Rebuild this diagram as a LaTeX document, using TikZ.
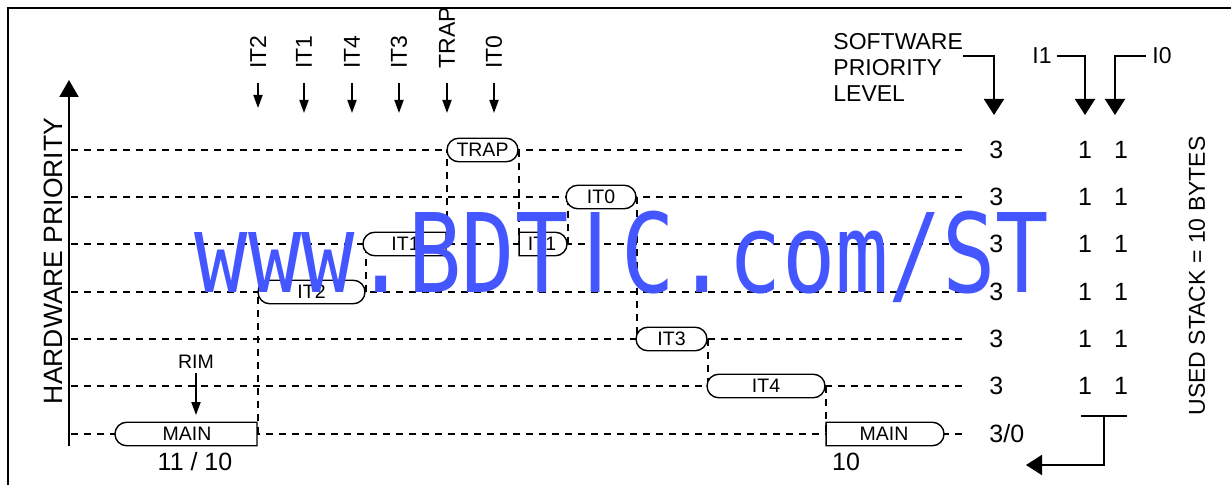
\documentclass[tikz,border=0pt]{standalone}
\usepackage{fontspec}
\setmainfont{Liberation Sans}
\newfontfamily\wmmono{DejaVu Sans Mono}
\newfontfamily\wmsans{DejaVu Sans}
\usetikzlibrary{shapes.misc,arrows.meta,backgrounds}
\definecolor{wmblue}{RGB}{68,86,255}
\newcommand\wmc[1]{\makebox[26.7pt][c]{#1}}
\begin{document}
\begin{tikzpicture}[x=0.5pt,y=-0.5pt,
  lbl/.style={font=\fontsize{11.5}{13}\selectfont, inner sep=0pt},
  num/.style={font=\fontsize{12.5}{14}\selectfont, inner sep=0pt},
  blbl/.style={font=\fontsize{9.75}{11}\selectfont, inner sep=0pt},
  task/.style={rounded rectangle, draw, fill=white, line width=0.7pt,
    minimum height=11.75pt, inner sep=0pt, font=\fontsize{9.75}{11}\selectfont},
  noleft/.style={rounded rectangle left arc=none},
  noright/.style={rounded rectangle right arc=none},
  grid/.style={line width=0.9pt, dash pattern=on 3.5pt off 3pt},
  sarr/.style={line width=0.9pt, -{Triangle[width=4.5pt,length=6.5pt]}},
  barr/.style={line width=1pt, -{Triangle[width=10pt,length=8pt]}},
  frame/.style={line width=1.2pt}
]
\useasboundingbox (0,0) rectangle (1231,485);

% frame
\draw[frame] (8,490) -- (8,8) -- (1236,8);

% axis
\coordinate (ax0) at (69,446);
\coordinate (ax1) at (69,80);
\draw[line width=1pt, -{Triangle[width=9.5pt,length=8.5pt]}] (ax0) -- (ax1);
\node[rotate=90, font=\fontsize{13.25}{15}\selectfont, inner sep=0pt] (hw) at (53,261) {HARDWARE PRIORITY};

% task boxes
\node[task, minimum width=35.5pt] (trap) at (482.5,150) {TRAP};
\node[task, minimum width=35pt] (it0) at (601,197) {IT0};
\node[task, noright, minimum width=41.5pt] (it1a) at (405.5,244) {IT1};
\node[task, noleft, minimum width=24pt] (it1b) at (542,244) {IT1};
\node[task, minimum width=53.5pt] (it2) at (311.5,292) {IT2};
\node[task, minimum width=35.5pt] (it3) at (671.5,339) {IT3};
\node[task, minimum width=59pt] (it4) at (766,386) {IT4};
\node[task, noright, minimum width=71pt] (mainL) at (187,434) {MAIN};
\node[task, noleft, minimum width=59pt] (mainR) at (884,434) {MAIN};

\begin{pgfonlayer}{background}
\foreach \y in {150,197,244,292,339,386,434}
  \draw[grid] (71,\y) -- (968,\y);
\draw[grid] (mainL.east) -- (mainL.east |- it2.west);
\draw[grid] (it2.east) -- (it2.east |- it1a.west);
\draw[grid] (it1a.east) -- (it1a.east |- trap.west);
\draw[grid] (trap.east) -- (trap.east |- it1b.west);
\draw[grid] (it1b.east) -- (it1b.east |- it0.west);
\draw[grid] (it0.east) -- (it0.east |- it3.west);
\draw[grid] (it3.east) -- (it3.east |- it4.west);
\draw[grid] (it4.east) -- (it4.east |- mainR.west);
\end{pgfonlayer}

% interrupt labels
\foreach \x/\t/\n/\l in {258/IT2/a/25, 304/IT1/b/30, 352/IT4/c/30, 399/IT3/d/30, 447/TRAP/e/30, 494/IT0/f/30}{
  \node[lbl, rotate=90, anchor=west] (l\n) at (\x,69) {\t};
  \draw[sarr] ([yshift=-7pt]l\n.west) -- ++(0,\l);
}

% RIM
\node[blbl] (rim) at (196,362) {RIM};
\draw[sarr] ([yshift=-2pt]rim.south) -- ++(0,42);

% bottom labels
\node[num] (n1) at (195,462) {11 / 10};
\node[num] (n2) at (846,462) {10};

% watermark
\node[anchor=base west, inner sep=0pt, text=wmblue, font=\wmmono\fontsize{44.35}{50}\selectfont] (wm) at (194.3,293)
  {\scalebox{1}[1.237]{\wmc{w}\wmc{w}\wmc{w}\wmc{.}\wmc{B}\wmc{D}\wmc{T}\wmc{\wmsans I}\wmc{C}\wmc{.}\wmc{c}\wmc{o}\wmc{m}\wmc{/}\wmc{S}\wmc{T}}};

% software priority
\node[lbl, align=left, anchor=north west] (sw) at (833,33) {SOFTWARE\\PRIORITY\\LEVEL};
\coordinate (swtip) at (994,115);
\draw[barr] ([yshift=-11.5pt]sw.north east) -| (swtip);

\node[lbl] (i1) at (1042,56) {I1};
\coordinate (i1tip) at (1085,115);
\draw[barr] ([xshift=2.5pt]i1.east) -| (i1tip);
\node[lbl] (i0) at (1162,56) {I0};
\coordinate (i0tip) at (1115,115);
\draw[barr] ([xshift=-3pt]i0.west) -| (i0tip);

% numbers
\foreach \y/\i in {150/1,197/2,244/3,292/4,339/5,386/6}{
  \node[num, anchor=west] (s\i) at (989,\y) {3};
  \node[num] (p\i) at (1085,\y) {1};
  \node[num] (q\i) at (1121,\y) {1};
}
\node[num, anchor=west] (s7) at (989,434) {3/0};

% bracket
\coordinate (bl) at (1081,416);
\coordinate (br) at (1127,416);
\coordinate (bm) at (1104,416);
\coordinate (btip) at (1026,465);
\draw[line width=1pt] (bl) -- (br);
\draw[barr] (bm) |- (btip);

\node[lbl, rotate=90] (us) at (1197,276) {USED STACK = 10 BYTES};
\end{tikzpicture}
\end{document}
